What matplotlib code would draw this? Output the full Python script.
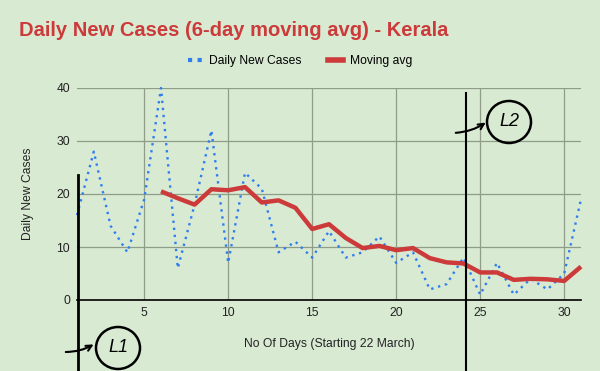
import matplotlib
matplotlib.use("Agg")
import matplotlib.pyplot as plt
from matplotlib.patches import Ellipse
from matplotlib.lines import Line2D

plt.rcParams['font.family'] = ['Liberation Sans', 'DejaVu Sans']

days = list(range(1, 32))
daily_cases = [16, 28, 14, 9, 19, 40, 6, 18, 32, 7, 24, 21, 9, 11, 8, 13,
               8, 9, 12, 7, 9, 2, 3, 8, 1, 7, 1, 4, 2, 5, 19]
avg_days = list(range(6, 32))
moving_avg = [20.5, 19.2, 18.0, 20.9, 20.7, 21.3, 18.4, 18.8, 17.4, 13.4, 14.3,
              11.7, 9.8, 10.2, 9.4, 9.8, 7.9, 7.1, 6.9, 5.2, 5.2, 3.8, 4.0, 3.9,
              3.6, 6.3]
x_ticks = [5, 10, 15, 20, 25, 30]
y_ticks = [0, 10, 20, 30, 40]

title = "Daily New Cases (6-day moving avg) - Kerala"
x_label = "No Of Days (Starting 22 March)"
y_label = "Daily New Cases"

bg = '#d9ead3'
grid_c = '#8f9d88'
blue = '#2f7ef0'
red = '#cc3a3a'

W, H = 600, 371
fig = plt.figure(figsize=(6, 3.71), dpi=100, facecolor=bg)
ax = fig.add_axes([77 / W, 1 - 300 / H, (581 - 77) / W, (300 - 88) / H])
ax.set_facecolor(bg)

ax.plot(days, daily_cases, linestyle=(0, (1, 2)), color=blue, lw=1.7,
        label='Daily New Cases', clip_on=False, zorder=3)
ax.plot(avg_days, moving_avg, color=red, lw=3.2, label='Moving avg',
        solid_capstyle='butt', clip_on=False, zorder=4)

ax.set_xlim(1, 31)
ax.set_ylim(0, 40)
ax.set_xticks(x_ticks)
ax.set_yticks(y_ticks)
ax.tick_params(length=0, labelsize=8.7, colors='#222222', pad=5)
ax.grid(True, color=grid_c, lw=0.9)
ax.set_axisbelow(True)
for s in ['top', 'right', 'left']:
    ax.spines[s].set_visible(False)
ax.spines['bottom'].set_color('black')
ax.spines['bottom'].set_linewidth(1.2)

ax.set_xlabel(x_label, fontsize=8.7, color='#222222', labelpad=14)
ax.set_ylabel(y_label, fontsize=8.7, color='#222222', labelpad=16)

fig.text(19 / W, 1 - 31 / H, title, fontsize=14.5, fontweight='bold',
         color=red, ha='left', va='center')

handles = [Line2D([0], [0], color=blue, lw=3, linestyle=(0, (1, 1.3))),
           Line2D([0], [0], color=red, lw=4)]
fig.legend(handles, ['Daily New Cases', 'Moving avg'], loc='center',
           bbox_to_anchor=(300 / W, 1 - 61 / H), ncol=2, frameon=False,
           fontsize=8.7, handlelength=1.2, columnspacing=2.2, handletextpad=0.6)

# hand-drawn annotations
fig.add_artist(Line2D([466 / W, 466 / W], [1 - 93 / H, 0], color='black', lw=1.5))
fig.add_artist(Line2D([78 / W, 78 / W], [1 - 175 / H, 0], color='black', lw=2))

for (cx, cy, txt, ax0, ay0, ax1, ay1) in [
        (118, 348, 'L1', 63, 352, 96, 343),
        (509, 122, 'L2', 453, 133, 488, 121)]:
    fig.add_artist(Ellipse((cx / W, 1 - cy / H), 44 / W, 42 / H,
                           fill=False, ec='black', lw=1.8,
                           transform=fig.transFigure))
    fig.text(cx / W, 1 - cy / H, txt, fontsize=13, style='italic',
             ha='center', va='center', color='black')
    fig.add_artist(matplotlib.patches.FancyArrowPatch(
        (ax0 / W, 1 - ay0 / H), (ax1 / W, 1 - ay1 / H),
        transform=fig.transFigure, arrowstyle='->', mutation_scale=10,
        color='black', lw=1.5, connectionstyle='arc3,rad=0.15'))

fig.savefig('out.png', dpi=100, facecolor=bg)
